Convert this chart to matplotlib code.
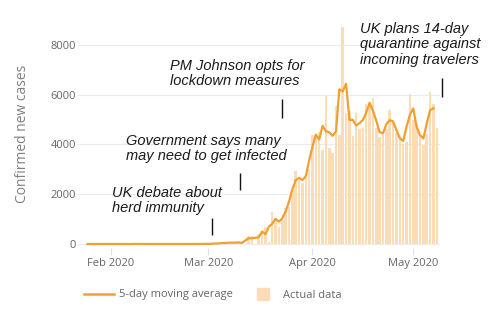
import matplotlib
matplotlib.use("Agg")
import matplotlib.pyplot as plt
import matplotlib.dates as mdates
from matplotlib.lines import Line2D
import pandas as pd

# === Data: daily confirmed cases (bars), Jan 31 .. May 8 ===
bar_start = "2020-01-31"
daily_jan = [2]
daily_feb = [0, 0, 0, 0, 0, 1, 0, 0, 0, 5, 0, 0, 1, 0, 0, 0, 0, 0, 0, 0,
             0, 0, 0, 4, 0, 0, 2, 5, 3]
daily_mar = [13, 4, 11, 35, 30, 48, 43, 67, 48, 62, 75, 0, 340, 340, 1, 410,
             410, 680, 70, 1300, 1050, 680, 980, 1440, 1480, 2170, 2930, 2570,
             2470, 2670, 3030]
daily_apr = [4380, 4310, 4520, 3790, 5960, 3840, 3670, 5530, 4400, 8730, 5270,
             5330, 4360, 5280, 4640, 4660, 5620, 5550, 5860, 4680, 4320, 4470,
             4610, 5390, 4930, 4470, 4310, 4000, 4090, 6040]
daily_may = [4970, 4810, 4340, 3990, 4410, 6110, 5610, 4650]

# === Data: moving average line, Jan 25 .. May 7 ===
avg_start = "2020-01-25"
avg_jan = [0, 0, 0, 0, 0, 1, 1]
avg_feb = [1, 1, 0, 0, 0, 0, 0, 2, 2, 2, 1, 1, 0, 0, 0, 0, 0, 0, 0, 0,
           0, 0, 0, 1, 1, 1, 2, 3, 5]
avg_mar = [7, 9, 17, 25, 38, 40, 53, 53, 59, 62, 46, 140, 230, 230, 250, 270,
           500, 390, 690, 810, 1010, 900, 1030, 1300, 1700, 2190, 2560, 2660,
           2570, 2720, 3360]
avg_apr = [3910, 4400, 4200, 4750, 4530, 4490, 4350, 4530, 6220, 6130, 6440,
           4990, 4990, 4760, 4860, 4980, 5280, 5680, 5360, 4950, 4490, 4460,
           4820, 4980, 4930, 4570, 4260, 4140, 4710, 5200]
avg_may = [5450, 4710, 4380, 4240, 4830, 5380, 5460]

# === Events (annotation text, date and height of the small marker) ===
event_labels = ["UK debate about\nherd immunity",
                "Government says many\nmay need to get infected",
                "PM Johnson opts for\nlockdown measures",
                "UK plans 14-day\nquarantine against\nincoming travelers"]
event_dates = ["2020-03-02 00:00", "2020-03-10 12:00", "2020-03-23 00:00", "2020-05-09 14:00"]
event_low = [360, 2170, 5060, 5900]
event_high = [1040, 2850, 5820, 6670]

y_ticks = [0, 2000, 4000, 6000, 8000]

daily = daily_jan + daily_feb + daily_mar + daily_apr + daily_may
avg = avg_jan + avg_feb + avg_mar + avg_apr + avg_may
bar_dates = pd.date_range(bar_start, periods=len(daily), freq="D")
avg_dates = pd.date_range(avg_start, periods=len(avg), freq="D")

LINE_COLOR = "#f0a033"
BAR_COLOR = "#fcdcb6"
TICK_COLOR = "#666666"

plt.rcParams["font.family"] = ["Open Sans", "DejaVu Sans"]

# === Figure ===
fig = plt.figure(figsize=(5, 3.25), dpi=100)
ax = fig.add_axes([80 / 500, 1 - 248 / 325, 360 / 500, 228 / 325])

ax.bar(bar_dates, daily, width=0.75, color=BAR_COLOR, zorder=2)
ax.plot(avg_dates, avg, color=LINE_COLOR, lw=1.6, zorder=3)

ax.set_xlim(pd.Timestamp("2020-01-22 19:00"), pd.Timestamp("2020-05-08 23:00"))
ax.set_ylim(-161, 9005)

ax.set_yticks(y_ticks)
ax.xaxis.set_major_locator(mdates.MonthLocator())
ax.xaxis.set_major_formatter(mdates.DateFormatter("%b %Y"))

ax.grid(axis="y", color="#ebebeb", lw=0.8, zorder=0)
for s in ax.spines.values():
    s.set_visible(False)
ax.tick_params(axis="y", length=2, width=0.8, color="#ebebeb", pad=1,
               labelsize=8, labelcolor=TICK_COLOR)
ax.tick_params(axis="x", length=5, width=0.8, color="#e2e2e2", pad=2,
               labelsize=8, labelcolor=TICK_COLOR)

ax.set_ylabel("Confirmed new cases", fontsize=10, color="#808080")
ax.yaxis.set_label_coords(-0.138, 0.5)

# === Annotations ===
ax.vlines(pd.to_datetime(event_dates, format="%Y-%m-%d %H:%M"), event_low, event_high,
          color="#111111", lw=1, clip_on=False, zorder=4)
text_pos = [(111.5, 186), (126.5, 134), (170, 59), (360, 22)]
for label, (px, py) in zip(event_labels, text_pos):
    fig.text(px / 500, 1 - py / 325, label, ha="left", va="top",
             fontsize=10.5, style="italic", color="#1a1a1a", linespacing=1.13,
             family=["Liberation Sans", "DejaVu Sans"])

# === Legend ===
handles = [Line2D([], [], color=LINE_COLOR, lw=1.8),
           Line2D([], [], color=BAR_COLOR, marker="s", markersize=8.6, ls="none")]
fig.legend(handles, ["5-day moving average", "Actual data"],
           loc="center left", bbox_to_anchor=(84 / 500, 1 - 295 / 325),
           ncol=2, frameon=False, fontsize=8, labelcolor=TICK_COLOR,
           handlelength=2.7, handletextpad=0.45, columnspacing=1.4,
           borderpad=0, borderaxespad=0)

fig.savefig("out.png", dpi=100)
